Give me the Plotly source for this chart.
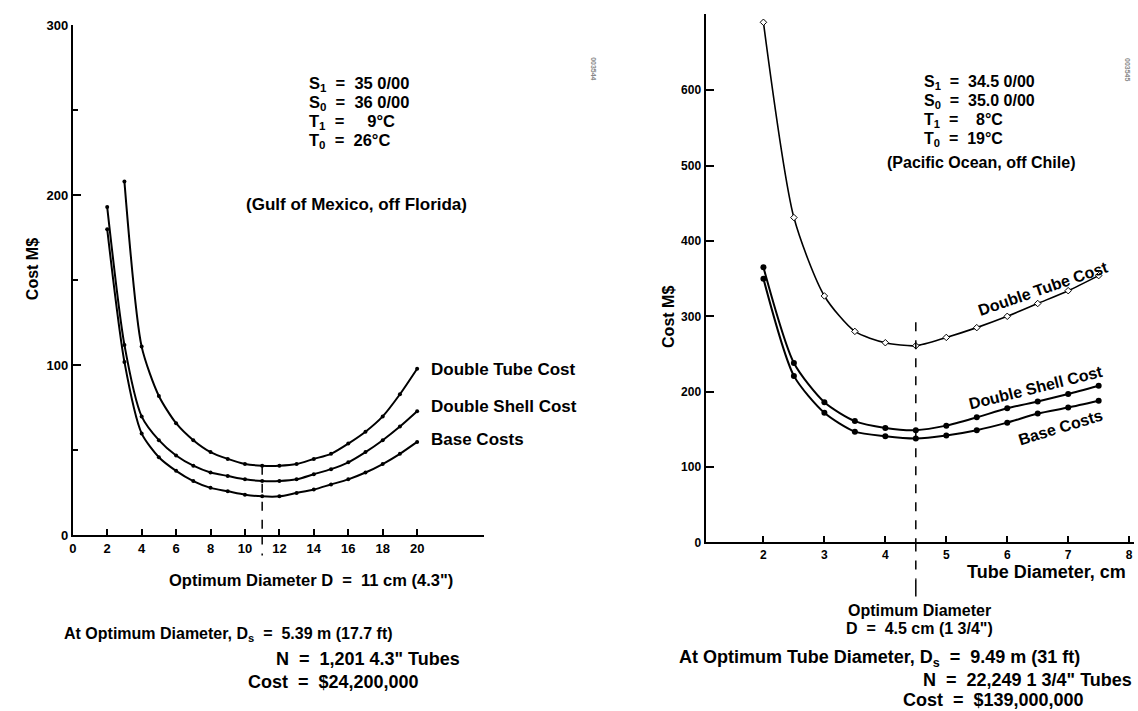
import plotly.graph_objects as go

# ---------------- Data: left chart (Gulf of Mexico, off Florida) ----------------
left_tube_x = [3, 4, 5, 6, 7, 8, 9, 10, 11, 12, 13, 14, 15, 16, 17, 18, 19, 20]
left_tube = [208, 111, 82, 66, 56, 49, 45, 42, 41, 41, 42, 45, 48, 54, 61, 70, 83, 98]
left_x = [2, 3, 4, 5, 6, 7, 8, 9, 10, 11, 12, 13, 14, 15, 16, 17, 18, 19, 20]
left_shell = [193, 112, 70, 56, 47, 41, 37, 35, 33, 32, 32, 33, 36, 39, 43, 49, 56, 64, 73]
left_base = [180, 102, 60, 46, 38, 32, 28, 26, 24, 23, 23, 25, 27, 30, 33, 37, 42, 48, 55]
left_xticks = [0, 2, 4, 6, 8, 10, 12, 14, 16, 18, 20]
left_yticks = [0, 100, 200, 300]
left_opt = 11
left_opt_top = 41

# ---------------- Data: right chart (Pacific Ocean, off Chile) ----------------
right_x = [2, 2.5, 3, 3.5, 4, 4.5, 5, 5.5, 6, 6.5, 7, 7.5]
right_tube = [690, 431, 327, 280, 265, 261, 272, 285, 300, 317, 334, 354]
right_shell = [365, 238, 186, 161, 152, 149, 155, 166, 178, 187, 197, 208]
right_base = [350, 221, 172, 147, 141, 138, 142, 149, 159, 171, 179, 188]
right_xticks = [2, 3, 4, 5, 6, 7, 8]
right_yticks = [0, 100, 200, 300, 400, 500, 600]
right_opt = 4.5
right_opt_top = 292

W, H = 1138, 711
FONT = "Liberation Sans"


def px(x):
    return x / W


def py(y):
    # small vertical compensation so the photographed page lines up with the reference
    return 1 - ((y - 8) / 0.978) / H


fig = go.Figure()

line_main = dict(color="black", width=2, shape="spline", smoothing=0.7)
mk = dict(color="black", size=4)

# left traces
fig.add_trace(go.Scatter(x=left_tube_x, y=left_tube, mode="lines+markers", line=line_main,
                         marker=mk, xaxis="x", yaxis="y", name="Double Tube Cost"))
fig.add_trace(go.Scatter(x=left_x, y=left_shell, mode="lines+markers", line=line_main,
                         marker=mk, xaxis="x", yaxis="y", name="Double Shell Cost"))
fig.add_trace(go.Scatter(x=left_x, y=left_base, mode="lines+markers", line=line_main,
                         marker=mk, xaxis="x", yaxis="y", name="Base Costs"))

# right traces
fig.add_trace(go.Scatter(x=right_x, y=right_tube, mode="lines+markers",
                         line=dict(color="black", width=1.6, shape="spline", smoothing=0.7),
                         marker=dict(color="white", size=5, symbol="diamond",
                                     line=dict(color="black", width=1)),
                         xaxis="x2", yaxis="y2", name="Double Tube Cost"))
fig.add_trace(go.Scatter(x=right_x, y=right_shell, mode="lines+markers",
                         line=dict(color="black", width=2, shape="spline", smoothing=0.7),
                         marker=dict(color="black", size=6),
                         xaxis="x2", yaxis="y2", name="Double Shell Cost"))
fig.add_trace(go.Scatter(x=right_x, y=right_base, mode="lines+markers",
                         line=dict(color="black", width=2, shape="spline", smoothing=0.7),
                         marker=dict(color="black", size=6),
                         xaxis="x2", yaxis="y2", name="Base Costs"))

axis_common = dict(showgrid=False, zeroline=False, showline=True, linecolor="black",
                   linewidth=2, ticks="inside", tickcolor="black", tickwidth=2)
tf_left = dict(family=FONT, size=13, color="black", weight="bold")
tf_right = dict(family=FONT, size=12, color="black", weight="bold")

L_dom_x = [px(69), px(482)]
L_dom_y = [py(536), py(26)]
R_dom_x = [px(704), px(1134)]
R_dom_y = [py(543), py(15)]

fig.update_layout(
    width=W, height=H, autosize=False, margin=dict(l=0, r=0, t=0, b=0),
    paper_bgcolor="white", plot_bgcolor="white", showlegend=False,
    xaxis=dict(axis_common, domain=L_dom_x, range=[0, 23.9], tickvals=left_xticks,
               ticklen=6, anchor="y", tickfont=tf_left),
    yaxis=dict(axis_common, domain=L_dom_y, range=[0, 300], tickvals=left_yticks,
               ticklen=8, anchor="x", tickfont=tf_left,
               minor=dict(ticks="inside", tickvals=[50, 150, 250], ticklen=5,
                          tickcolor="black", tickwidth=2)),
    xaxis2=dict(axis_common, domain=R_dom_x, range=[1.05, 8.08], tickvals=right_xticks,
                ticklen=6, anchor="y2", tickfont=tf_right),
    yaxis2=dict(axis_common, domain=R_dom_y, range=[0, 701], tickvals=right_yticks,
                ticklen=8, anchor="x2", tickfont=tf_right),
)

# optimum dashed lines
dash = dict(color="black", width=1.5, dash="dash")
fig.add_shape(type="line", xref="x", yref="y", x0=left_opt, x1=left_opt,
              y0=left_opt_top, y1=0, line=dash)
fig.add_shape(type="line", xref="x", yref="paper", x0=left_opt, x1=left_opt,
              y0=py(536), y1=py(556), line=dash)
fig.add_shape(type="line", xref="x2", yref="y2", x0=right_opt, x1=right_opt,
              y0=right_opt_top, y1=0, line=dash)
fig.add_shape(type="line", xref="x2", yref="paper", x0=right_opt, x1=right_opt,
              y0=py(543), y1=py(580), line=dash)
fig.add_shape(type="line", xref="x2", yref="paper", x0=right_opt, x1=right_opt,
              y0=py(580), y1=py(597), line=dict(color="black", width=1.5))


def ann(text, x, y, size=13, xanchor="center", yanchor="middle", angle=0, color="black"):
    fig.add_annotation(text=text, x=x, y=y, xref="paper", yref="paper", showarrow=False,
                       xanchor=xanchor, yanchor=yanchor, textangle=angle,
                       font=dict(family=FONT, size=size, color=color, weight="bold"))


# left texts
ann("Cost M$", px(28), py(270), size=16, angle=-90)
for i, t in enumerate(["S<sub>1</sub>  =  35 0/00", "S<sub>0</sub>  =  36 0/00",
                       "T<sub>1</sub>  =     9°C", "T<sub>0</sub>  =  26°C"]):
    ann(t, px(304), py(85 + 19 * i), size=16.5, xanchor="left")
ann("(Gulf of Mexico, off Florida)", px(354), py(205), size=17)
ann("Double Tube Cost", px(427), py(370), size=17, xanchor="left")
ann("Double Shell Cost", px(427), py(407), size=17, xanchor="left")
ann("Base Costs", px(427), py(440), size=17, xanchor="left")
ann("Optimum Diameter D  =  11 cm (4.3\")", px(308), py(580), size=16.5)
ann("At Optimum Diameter, D<sub>s</sub>  =  5.39 m (17.7 ft)", px(58), py(635), size=16,
    xanchor="left")
ann("N  =  1,201 4.3\" Tubes", px(271), py(659), size=18, xanchor="left")
ann("Cost  =  $24,200,000", px(243), py(682), size=18, xanchor="left")
ann("003544", px(592), py(70), size=7, angle=90, color="#888888")

# right texts
ann("Cost M$", px(667), py(318), size=16, angle=-90)
for i, t in enumerate(["S<sub>1</sub>  =  34.5 0/00", "S<sub>0</sub>  =  35.0 0/00",
                       "T<sub>1</sub>  =    8°C", "T<sub>0</sub>  =  19°C"]):
    ann(t, px(921), py(83 + 19 * i), size=16, xanchor="left")
ann("(Pacific Ocean, off Chile)", px(980), py(163), size=16)
ann("Double Tube Cost", px(1043), py(289), size=16, angle=-19)
ann("Double Shell Cost", px(1036), py(388), size=16, angle=-14)
ann("Base Costs", px(1060), py(428), size=16, angle=-17)
ann("Tube Diameter, cm", px(1128), py(572), size=18, xanchor="right")
ann("Optimum Diameter", px(919), py(611), size=16)
ann("D  =  4.5 cm (1 3/4\")", px(919), py(629), size=16)
ann("At Optimum Tube Diameter, D<sub>s</sub>  =  9.49 m (31 ft)", px(675), py(659),
    size=18, xanchor="left")
ann("N  =  22,249 1 3/4\" Tubes", px(1134), py(680), size=18, xanchor="right")
ann("Cost  =  $139,000,000", px(900), py(700), size=18, xanchor="left")
ann("003545", px(1128), py(70), size=7, angle=90, color="#888888")

fig.write_html(
    "out.html",
    config={"displayModeBar": False, "responsive": False},
    post_script=("document.documentElement.style.margin='0';"
                 "document.body.style.margin='0';document.body.style.padding='0';"
                 "document.documentElement.style.overflow='hidden';"
                 "document.body.style.overflow='hidden';"),
)
